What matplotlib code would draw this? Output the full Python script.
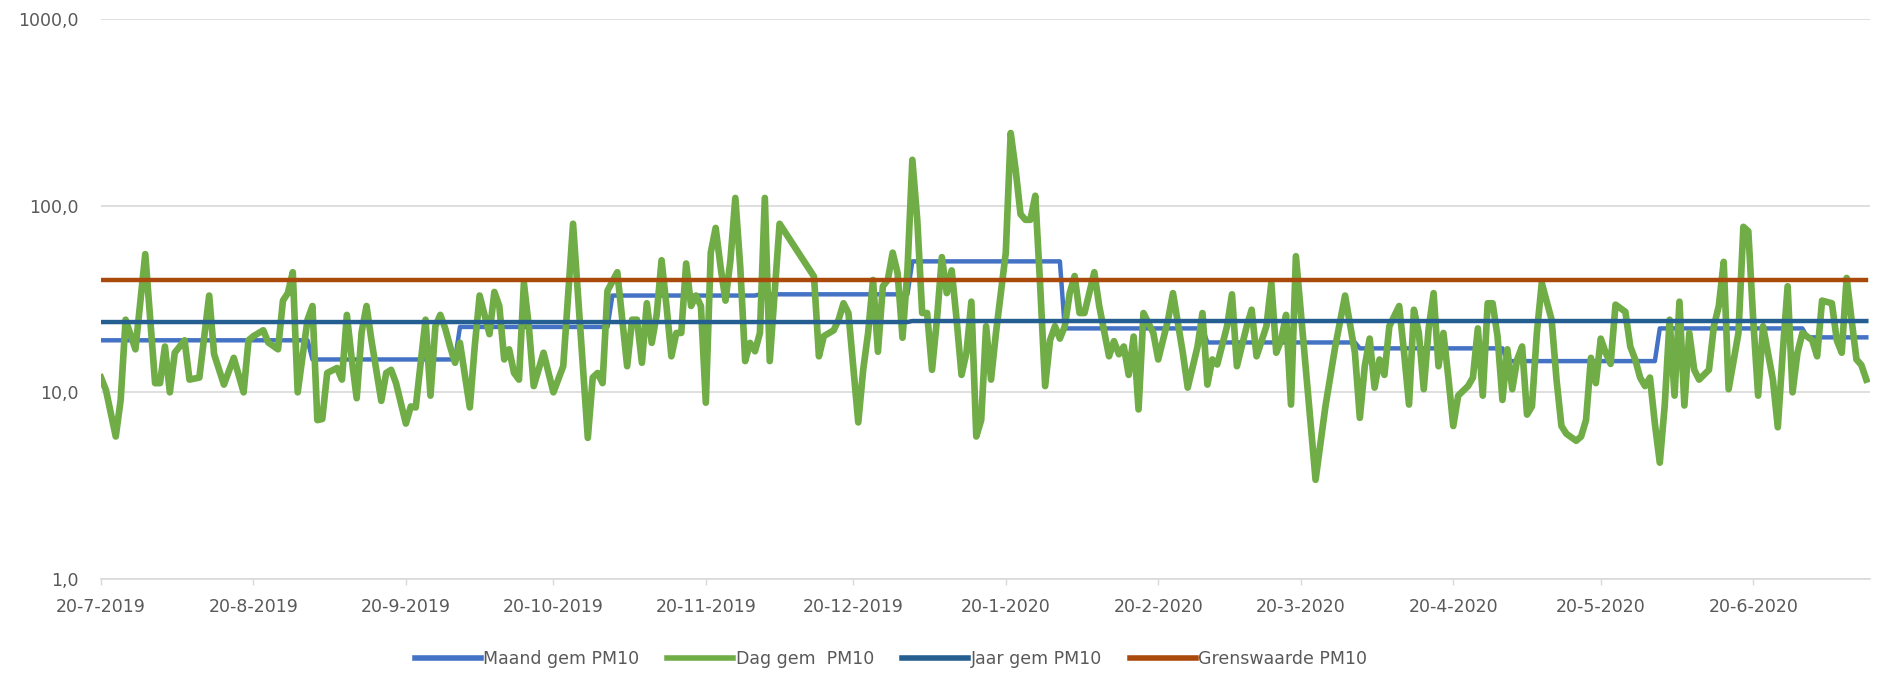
import numpy as np
import pandas as pd
import matplotlib
matplotlib.use('Agg')
import matplotlib.pyplot as plt
from matplotlib.ticker import FixedLocator, FuncFormatter, NullLocator

# daily PM10 (day offset from 20-7-2019, value)
start = pd.Timestamp('2019-07-20')
dag_days = [0, 1, 3, 4, 5, 7, 9, 11, 12, 13, 14, 15, 17, 18, 20, 22, 23, 25, 27, 29,
            30, 31, 33, 34, 36, 37, 38, 39, 40, 42, 43, 44, 45, 46, 48, 49, 50,
            51, 52, 53, 54, 55, 57, 58, 59, 60, 62, 63, 64, 66, 67, 68, 69, 70, 71,
            72, 73, 75, 76, 77, 79, 80, 81, 82, 83, 84, 85, 86, 87, 88, 90, 92, 94,
            96, 99, 100, 101,
            102, 103, 105, 106, 107, 108, 109, 110, 111, 112, 113, 114, 115, 116, 117,
            118, 119, 120, 121, 122, 123, 124, 125, 126, 127, 128, 129, 130, 131, 132,
            133, 134, 135, 136, 138, 145, 146, 147, 149, 150, 151,
            152, 154, 155, 156, 157, 158, 159, 160, 161, 162, 163, 164, 165, 166, 167,
            168, 169, 170, 171, 172, 173, 174, 175, 176, 177, 178, 179, 180, 181, 182,
            183, 184, 185, 186, 187, 188, 189, 190, 191, 192, 193, 194, 195, 196, 197,
            198, 199, 200, 202, 203, 205, 206, 207, 208, 209, 210, 211, 212, 214, 215,
            217, 218, 220, 221, 223, 224, 225, 226, 227, 229, 230, 231, 233, 234, 235,
            237, 238, 239, 240, 241, 242, 243, 247, 249, 251, 253, 255, 256, 257, 258,
            259, 260, 261, 262, 264, 265, 266, 267, 268, 269, 270, 271, 272, 273, 274,
            275, 276, 278, 279, 280, 281, 282, 283, 284, 285, 286, 287, 288, 289, 290,
            291, 292, 293, 295, 296, 297, 298, 300, 301, 302, 303, 304, 305, 306, 307,
            308, 310, 311, 312, 313, 314, 315, 316, 317, 318, 319, 320, 321, 322, 323,
            324, 325, 327, 328, 329, 330, 331, 333, 334, 335, 336, 337, 338, 339, 340,
            341, 342, 343, 344, 345, 346, 348, 349, 350, 352, 353, 354, 355, 356, 357,
            358, 359]
dag_vals = [12, 10.3, 5.8, 9.1, 24.5, 17, 55, 11.2, 11.2, 17.6, 10, 16.3, 19, 11.7, 12, 33, 16, 11, 15.3, 10,
            19, 20, 21.5, 18.5, 17, 31, 34, 44, 10, 24.5, 29, 7.1, 7.2, 12.7, 13.5, 11.7, 26,
            15, 9.3, 21, 29, 19, 9, 12.7, 13.2, 11.2, 6.8, 8.4, 8.3, 24.5, 9.6, 22.6, 26, 22, 17.6,
            14.4, 18.4, 8.3, 17.6, 33, 20.5, 34.5, 29, 15, 17, 12.7, 11.7, 38.5, 22.6, 10.8, 16.3, 10, 13.8,
            80, 5.7, 12, 12.7,
            11.2, 35, 44, 24.5, 13.8, 24.5, 24.5, 14.4, 30, 18.4, 26, 51, 29, 15.6, 20.8,
            20.8, 49, 29, 33, 29, 8.8, 56, 76, 47, 31, 51, 110, 47, 14.7, 18.4,
            16.6, 20.8, 110, 14.7, 80, 41.7, 15.6, 20, 21.5, 24.5, 30,
            26.6, 6.9, 13.2, 20.8, 40, 16.5, 37, 40, 56, 43.5, 19.6, 45, 176, 84, 26.6,
            26.6, 13.2, 24.5, 53, 34, 45, 24.5, 12.4, 16.3, 30.6, 5.8, 7.1, 22.6, 11.7, 20.8,
            34, 56, 245, 156, 90, 84, 84, 113, 37, 10.8, 19, 22.6, 19.4, 22.6, 34,
            42, 26.6, 26.6, 44, 29, 15.6, 18.8, 16, 17.6, 12.4, 19.9, 8.1, 26.6, 20.8, 15,
            24.5, 34, 16.3, 10.6, 17.6, 26.6, 11, 15, 14.1, 22.6, 33.5, 13.8, 22.6, 27.7, 15.6,
            22.6, 38.5, 16.3, 19, 26, 8.6, 53.6, 3.4, 8.4, 17.6, 33, 16.3, 7.3, 13.8, 19.4,
            10.6, 15, 12.4, 22.6, 29, 16.3, 8.6, 27.7, 20.8, 10.4, 22, 34, 13.8, 20.8, 12,
            6.6, 9.6, 10.8, 12, 22, 9.6, 30, 30, 20, 9.1, 17, 10.4, 15, 17.6, 7.6,
            8.4, 20.8, 38.5, 24.5, 11.7, 6.6, 6, 5.5, 5.8, 7.1, 15.3, 11.2, 19.4, 16.3, 14.2,
            29.5, 27, 17.6, 15, 12, 10.8, 12, 6.8, 4.2, 8.5, 24.5, 9.6, 30.6, 8.5, 20.8,
            13.2, 11.7, 13.2, 22.6, 29, 50, 10.4, 20.8, 77, 73, 24.5, 9.6, 22.6, 16.3, 11.7,
            6.5, 16.3, 37, 10, 16.3, 20.8, 19, 15.6, 31, 30, 19, 16.3, 41, 24.5, 15,
            14, 11.7]

# monthly means (Maand gem)
maand_months = ['2019-07', '2019-08', '2019-09', '2019-10', '2019-11', '2019-12', '2020-01',
                '2020-02', '2020-03', '2020-04', '2020-05', '2020-06', '2020-07']
maand_vals = [19.0, 19.0, 15.0, 22.4, 33.0, 33.5, 50.3, 22.0, 18.5, 17.2, 14.7, 22.0, 19.7]

# yearly means (Jaar gem)
jaar_years = [2019, 2020]
jaar_vals = [23.8, 24.1]

grenswaarde = 40

dag_dates = start + pd.to_timedelta(dag_days, unit='D')
all_dates = pd.date_range(start, dag_dates[-1], freq='D')
maand_map = dict(zip(maand_months, maand_vals))
jaar_map = dict(zip(jaar_years, jaar_vals))
maand_series = [maand_map[d.strftime('%Y-%m')] for d in all_dates]
jaar_series = [jaar_map[d.year] for d in all_dates]
grens_series = [grenswaarde] * len(all_dates)

fig = plt.figure(figsize=(18.81, 6.84), dpi=100)
ax = fig.add_axes([101 / 1881, 1 - 579 / 684, (1870 - 101) / 1881, (579 - 19) / 684])

ax.plot(all_dates, maand_series, color='#4472C4', lw=3.2, label='Maand gem PM10', zorder=2,
        solid_joinstyle='round')
ax.plot(dag_dates, dag_vals, color='#70AD47', lw=4.8, label='Dag gem  PM10', zorder=3,
        solid_joinstyle='round')
ax.plot(all_dates, jaar_series, color='#255E91', lw=3.2, label='Jaar gem PM10', zorder=4)
ax.plot(all_dates, grens_series, color='#A9490C', lw=3.2, label='Grenswaarde PM10', zorder=5)

ax.set_yscale('log')
ax.set_ylim(1, 1000)
ax.yaxis.set_major_locator(FixedLocator([1, 10, 100, 1000]))
ax.yaxis.set_minor_locator(NullLocator())
ax.yaxis.set_major_formatter(FuncFormatter(lambda v, p: ('%.1f' % v).replace('.', ',')))
ax.set_xlim(start, dag_dates[-1] + pd.Timedelta(hours=18))

tick_dates = pd.date_range('2019-07-01', '2020-06-01', freq='MS') + pd.Timedelta(days=19)
ax.set_xticks(tick_dates)
ax.set_xticklabels(['%d-%d-%d' % (d.day, d.month, d.year) for d in tick_dates])

ax.grid(axis='y', color='#d9d9d9', lw=1.2)
ax.set_axisbelow(True)
for s in ['top', 'right', 'left']:
    ax.spines[s].set_visible(False)
ax.spines['bottom'].set_color('#d9d9d9')
ax.spines['bottom'].set_linewidth(1.2)

ax.tick_params(axis='y', length=0, pad=16, labelsize=12.5, labelcolor='#595959')
ax.tick_params(axis='x', length=4, width=1, color='#d9d9d9', pad=10, labelsize=12.5,
               labelcolor='#595959')

leg = fig.legend(loc='center', bbox_to_anchor=(891 / 1881, 25 / 684), ncol=4, frameon=False,
                 fontsize=12.5, handlelength=3.8, handletextpad=0.15, columnspacing=1.6)
for t in leg.get_texts():
    t.set_color('#595959')
for h in leg.legend_handles:
    h.set_linewidth(4)

fig.savefig('out.png', dpi=100, facecolor='white')
